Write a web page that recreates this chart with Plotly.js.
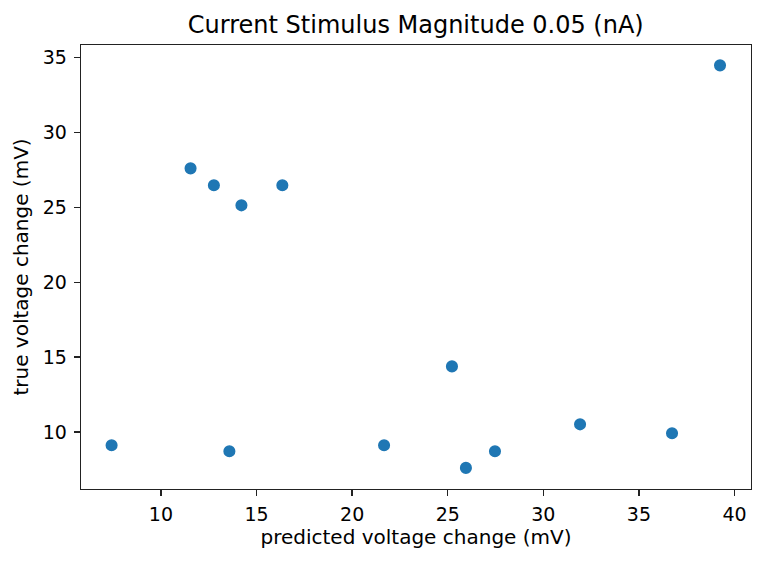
<!DOCTYPE html>
<html>
<head>
<meta charset="utf-8">
<script src="https://cdn.plot.ly/plotly-3.0.1.min.js"></script>
<style>html,body{margin:0;padding:0;background:#fff;}#chart{width:765px;height:563px;}</style>
</head>
<body>
<div id="chart"></div>
<script>
// Data
const predicted = [7.42, 11.55, 12.77, 13.58, 14.21, 16.35, 21.67, 25.22, 25.95, 27.47, 31.92, 36.73, 39.24];
const trueChange = [9.11, 27.61, 26.48, 8.71, 25.14, 26.48, 9.11, 14.38, 7.60, 8.71, 10.51, 9.91, 34.49];
const xTicks = [10, 15, 20, 25, 30, 35, 40];
const yTicks = [10, 15, 20, 25, 30, 35];
const titleText = "Current Stimulus Magnitude 0.05 (nA)";
const xLabel = "predicted voltage change (mV)";
const yLabel = "true voltage change (mV)";

const font = "DejaVu Sans, sans-serif";
const trace = {
  x: predicted,
  y: trueChange,
  type: "scatter",
  mode: "markers",
  marker: {color: "#1f77b4", size: 10.5, line: {color: "#1f77b4", width: 1.6}},
  hoverinfo: "x+y"
};
const axisCommon = {
  showline: true, mirror: true, linecolor: "#222", linewidth: 1.3,
  ticks: "outside", ticklen: 6, tickwidth: 1.3, tickcolor: "#222",
  showgrid: false, zeroline: false,
  tickfont: {family: font, size: 19, color: "#000"},
  tickmode: "array"
};
const layout = {
  width: 765, height: 563,
  margin: {l: 81, r: 14, t: 45, b: 74},
  paper_bgcolor: "#fff", plot_bgcolor: "#fff",
  showlegend: false,
  title: {text: titleText, font: {family: font, size: 24, color: "#000"},
          x: 0.5435, xanchor: "center", xref: "container", y: 1 - 25/563, yanchor: "middle", yref: "container"},
  xaxis: Object.assign({}, axisCommon, {
    range: [5.82, 40.86], tickvals: xTicks, ticktext: xTicks.map(String),
    ticklabelstandoff: 2,
    title: {text: xLabel, font: {family: font, size: 20, color: "#000"}, standoff: 6}
  }),
  yaxis: Object.assign({}, axisCommon, {
    range: [6.19, 35.85], tickvals: yTicks, ticktext: yTicks.map(String),
    ticklabelstandoff: 3,
    title: {text: yLabel, font: {family: font, size: 20, color: "#000"}, standoff: 8}
  })
};
Plotly.newPlot("chart", [trace], layout, {displayModeBar: false, staticPlot: true});
</script>
</body>
</html>
